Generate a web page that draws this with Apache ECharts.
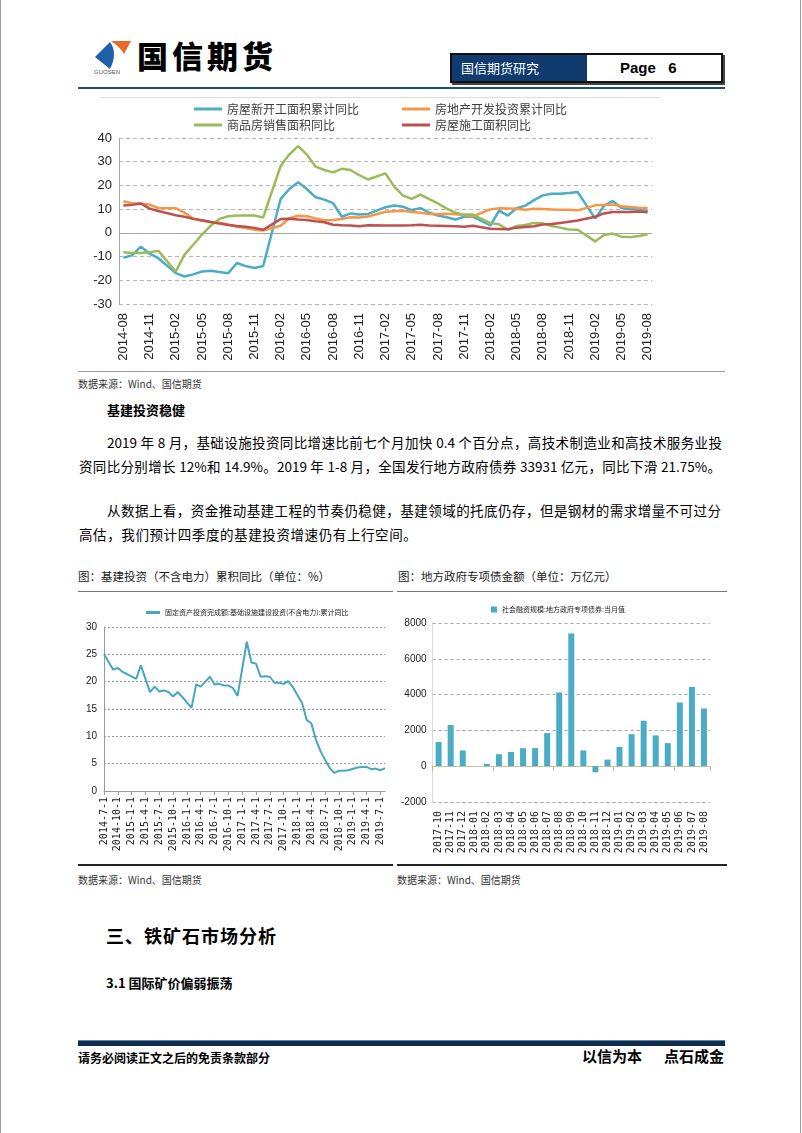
<!DOCTYPE html>
<html><head><meta charset="utf-8">
<script src="https://cdn.jsdelivr.net/npm/echarts@6/dist/echarts.min.js"></script>
<style>
html,body{margin:0;padding:0;background:#fff;}
#page{position:relative;width:802px;height:1133px;overflow:hidden;background:#fff;font-family:'Noto Sans CJK SC',sans-serif;color:#000;}
.a{position:absolute;white-space:nowrap;}
.rule{position:absolute;}
.p{position:absolute;font-size:13.5px;line-height:20px;height:20px;text-align:justify;text-align-last:justify;overflow:visible;}
.chart{position:absolute;}
</style></head><body><div id="page">
<div class="rule" style="left:0;top:0;width:1px;height:1133px;background:#9a9a9a"></div>
<div class="rule" style="left:800px;top:0;width:1px;height:1133px;background:#9a9a9a"></div>

<svg class="a" style="left:93px;top:38px" width="44" height="34" viewBox="0 0 44 34">
  <path d="M2,19 L17,4 Q25,15 17,31 Z" fill="#1e5fa8"/>
  <path d="M18,3 L38,3 L31,16 Q27,9 18,3 Z" fill="#e8692a"/>
</svg>
<div class="a" style="left:94px;top:69px;font-size:6px;color:#555;font-family:'Liberation Sans',sans-serif;">GUOSEN</div>
<div class="a" style="left:137px;top:35px;font-size:31px;font-weight:900;letter-spacing:4px;line-height:40px;">国信期货</div>

<div class="a" style="left:450px;top:53px;width:273px;height:30px;box-sizing:border-box;border:2px solid #111;box-shadow:2px 2px 0 #444;background:#fff;">
  <div class="a" style="left:0;top:0;width:135px;height:26px;background:#0f3b6e;color:#fff;font-size:13px;line-height:26px;padding-left:9px;box-sizing:border-box;">国信期货研究</div>
  <div class="a" style="left:168px;top:0;height:26px;line-height:26px;font-size:15px;font-weight:bold;font-family:'Liberation Sans',sans-serif;">Page&nbsp;&nbsp;&nbsp;6</div>
</div>
<div class="rule" style="left:78px;top:87px;width:647px;height:2px;background:#1f4e79"></div>

<div class="rule" style="left:100px;top:97px;width:560px;height:1px;background:#dcdcdc"></div>
<div id="c1" class="chart" style="left:70px;top:95px;width:620px;height:275px;"></div>
<div class="rule" style="left:78px;top:371px;width:647px;height:1px;background:#999"></div>
<div class="a" style="left:78px;top:377px;font-size:10px;line-height:14px;color:#333;">数据来源：Wind、国信期货</div>

<div class="a" style="left:107px;top:400px;font-size:13px;font-weight:bold;line-height:20px;">基建投资稳健</div>
<div class="p" style="left:107px;top:432px;width:615px;">2019 年 8 月，基础设施投资同比增速比前七个月加快 0.4 个百分点，高技术制造业和高技术服务业投</div>
<div class="p" style="left:79px;top:456px;width:642px;">资同比分别增长 12%和 14.9%。2019 年 1-8 月，全国发行地方政府债券 33931 亿元，同比下滑 21.75%。</div>
<div class="p" style="left:107px;top:500px;width:614px;">从数据上看，资金推动基建工程的节奏仍稳健，基建领域的托底仍存，但是钢材的需求增量不可过分</div>
<div class="a" style="left:79px;top:524px;font-size:13.5px;line-height:20px;letter-spacing:0.6px;">高估，我们预计四季度的基建投资增速仍有上行空间。</div>

<div class="a" style="left:78px;top:568px;font-size:11.5px;line-height:16px;color:#222;">图：基建投资（不含电力）累积同比（单位：%）</div>
<div class="a" style="left:398px;top:568px;font-size:11.5px;line-height:16px;color:#222;">图：地方政府专项债金额（单位：万亿元）</div>
<div class="rule" style="left:78px;top:591px;width:315px;height:1px;background:#777"></div>
<div class="rule" style="left:397px;top:591px;width:330px;height:1px;background:#777"></div>
<div id="c2" class="chart" style="left:78px;top:595px;width:318px;height:268px;"></div>
<div id="c3" class="chart" style="left:398px;top:595px;width:328px;height:268px;"></div>
<div class="rule" style="left:78px;top:864px;width:315px;height:2px;background:#222"></div>
<div class="rule" style="left:397px;top:864px;width:330px;height:2px;background:#222"></div>
<div class="a" style="left:78px;top:873px;font-size:10px;line-height:14px;color:#333;">数据来源：Wind、国信期货</div>
<div class="a" style="left:397px;top:873px;font-size:10px;line-height:14px;color:#333;">数据来源：Wind、国信期货</div>

<div class="a" style="left:106px;top:923px;font-size:18px;font-weight:bold;line-height:24px;letter-spacing:1px;">三、铁矿石市场分析</div>
<div class="a" style="left:106px;top:974px;font-size:13px;font-weight:bold;line-height:18px;">3.1 国际矿价偏弱振荡</div>

<div class="rule" style="left:78px;top:1040px;width:647px;height:6px;background:#0e2d4d;border-top:1px solid #5b85b0;box-sizing:border-box;"></div>
<div class="a" style="left:78px;top:1050px;font-size:12px;font-weight:bold;line-height:16px;">请务必阅读正文之后的免责条款部分</div>
<div class="a" style="left:582px;top:1046px;font-size:15px;font-weight:bold;line-height:20px;">以信为本<span style="display:inline-block;width:22px"></span>点石成金</div>
</div>
<script>
// ---------- Chart 1: 房地产 ----------
const months1 = [];
for (let y = 2014, m = 8; ; m++) {
  if (m > 12) { m = 1; y++; }
  if (y === 2019 && m > 8) break;
  months1.push(y + '-' + String(m).padStart(2, '0'));
}
const newStart = [-10.5,-9.5,-5.8,-8.8,-10.7,null,-17.0,-18.4,-17.5,-16.3,-16.0,-16.5,-17.0,-12.7,-14.0,-14.8,-14.0,null,14.3,18.5,21.4,18.5,15.0,14.0,12.5,6.8,8.2,7.7,8.0,null,10.8,11.5,11.0,9.6,10.4,8.5,7.3,6.6,5.6,6.8,6.8,null,3.1,9.4,7.3,10.4,11.5,13.8,15.8,16.5,16.5,16.8,17.2,null,6.0,11.4,13.4,10.5,10.1,9.9,9.0];
const investment = [13.3,12.5,12.4,11.9,10.5,null,10.4,8.5,6.0,5.1,4.6,4.3,3.5,2.6,2.0,1.3,1.0,null,3.0,6.2,7.2,7.0,6.1,5.3,5.4,5.8,6.6,6.5,6.9,null,8.9,9.1,9.3,8.8,8.5,7.9,7.9,8.1,7.8,7.5,7.0,null,9.9,10.4,10.3,10.2,9.7,10.2,10.1,9.9,9.7,9.7,9.5,null,11.6,11.8,11.9,11.2,10.9,10.6,10.5];
const salesArea = [-8.2,-8.5,-8.5,-8.2,-7.6,null,-16.3,-9.2,-5.0,-0.7,3.0,5.9,7.0,7.3,7.3,7.3,6.5,null,28.2,33.1,36.6,33.0,27.9,26.5,25.5,27.0,26.5,24.3,22.5,null,25.1,19.5,15.7,14.3,16.1,14.2,12.4,10.2,8.5,7.7,7.7,null,4.1,3.6,1.3,2.9,3.3,4.2,4.0,2.9,2.2,1.4,1.3,null,-3.6,-0.9,-0.3,-1.6,-1.8,-1.3,-0.6];
const construction = [11.5,11.8,12.4,10.2,9.2,null,7.4,6.8,5.9,5.3,4.6,3.9,3.3,2.9,2.6,2.1,1.3,null,5.8,5.9,5.6,5.4,4.9,4.5,3.4,3.2,3.1,2.8,3.2,null,3.1,3.1,3.1,3.2,3.4,3.1,3.0,2.9,2.8,2.6,3.0,null,1.7,1.6,1.5,2.2,2.5,2.8,3.5,3.7,4.2,4.7,5.2,null,6.8,8.2,8.8,8.8,8.8,9.0,8.7];
const names1 = ['房屋新开工面积累计同比','房地产开发投资累计同比','商品房销售面积同比','房屋施工面积同比'];
const colors1 = ['#4bacc6','#f79646','#9bbb59','#c0504d'];

// ---------- Chart 2: 基建投资 ----------
const months2 = [];
for (let y = 2014, m = 7; ; m++) {
  if (m > 12) { m = 1; y++; }
  if (y === 2019 && m > 8) break;
  months2.push(y + '-' + m + '-1');
}
const infra = [25.0,23.6,22.2,22.5,21.8,21.4,null,20.5,23.0,20.5,18.1,19.1,18.2,18.4,18.1,17.3,18.1,17.2,null,15.2,19.5,19.1,20.0,20.9,19.5,19.6,19.3,19.3,18.8,17.4,null,27.3,23.5,23.3,20.9,21.0,20.9,19.8,19.8,19.6,20.1,19.0,null,16.1,13.0,12.4,9.4,7.3,5.7,4.2,3.3,3.7,3.7,3.8,null,4.3,4.4,4.4,4.0,4.1,3.8,4.2];
const name2 = '固定资产投资完成额:基础设施建设投资(不含电力):累计同比';

// ---------- Chart 3: 专项债 ----------
const months3 = ['2017-10','2017-11','2017-12','2018-01','2018-02','2018-03','2018-04','2018-05','2018-06','2018-07','2018-08','2018-09','2018-10','2018-11','2018-12','2019-01','2019-02','2019-03','2019-04','2019-05','2019-06','2019-07','2019-08'];
const specialBond = [1350,2300,880,0,130,670,800,1010,1010,1850,4120,7420,880,-340,370,1080,1790,2540,1720,1290,3560,4430,3230];
const name3 = '社会融资规模:地方政府专项债券:当月值';

const cjk = "'Noto Sans CJK SC', sans-serif";
const lat = "'Liberation Sans', sans-serif";
const narrow = "'Liberation Sans Narrow', 'Liberation Sans', sans-serif";
const mono = "'DejaVu Sans Mono', monospace";
const plain = v => String(v);

const c1 = echarts.init(document.getElementById('c1'));
c1.setOption({
  animation: false,
  color: colors1,
  grid: {left: 49, top: 43, width: 533, height: 166},
  legend: [
    {left: 124, top: 7, padding: 0, orient: 'vertical', icon: 'rect', itemWidth: 28, itemHeight: 3, itemGap: 2,
     data: [names1[0], names1[2]], textStyle: {fontFamily: cjk, fontSize: 12, lineHeight: 14, color: '#404040'}},
    {left: 332, top: 7, padding: 0, orient: 'vertical', icon: 'rect', itemWidth: 28, itemHeight: 3, itemGap: 2,
     data: [names1[1], names1[3]], textStyle: {fontFamily: cjk, fontSize: 12, lineHeight: 14, color: '#404040'}}
  ],
  xAxis: {type: 'category', data: months1, boundaryGap: true,
    axisLine: {show: false}, axisTick: {show: false},
    axisLabel: {interval: 2, rotate: 90, margin: 9, fontSize: 13, fontFamily: lat, color: '#222'}},
  yAxis: {type: 'value', min: -30, max: 40, interval: 10,
    axisLine: {show: true, lineStyle: {color: '#a6a6a6'}}, axisTick: {show: false},
    axisLabel: {margin: 7, fontSize: 13, fontFamily: lat, color: '#222', formatter: plain},
    splitLine: {lineStyle: {type: [4, 3], color: '#b5b5b5'}}},
  series: [
    {name: names1[0], type: 'line', data: newStart},
    {name: names1[1], type: 'line', data: investment},
    {name: names1[2], type: 'line', data: salesArea},
    {name: names1[3], type: 'line', data: construction}
  ].map((s, i) => Object.assign(s, {symbol: 'none', connectNulls: true, lineStyle: {width: 2.5}, z: 3 + i,
    markLine: i === 0 ? {silent: true, symbol: 'none', label: {show: false}, z: 1,
      lineStyle: {type: 'solid', color: '#a6a6a6', width: 1}, data: [{yAxis: 0}]} : undefined}))
});

const c2 = echarts.init(document.getElementById('c2'));
c2.setOption({
  animation: false,
  grid: {left: 26, top: 32, width: 281, height: 164},
  legend: {left: 68, top: 14, padding: 0, icon: 'rect', itemWidth: 14, itemHeight: 3, itemGap: 4,
    data: [name2], textStyle: {fontFamily: cjk, fontSize: 7, color: '#222'}},
  xAxis: {type: 'category', data: months2, boundaryGap: false,
    axisLine: {show: true, lineStyle: {color: '#9a9a9a'}},
    axisTick: {show: true, interval: 2, length: 4, lineStyle: {color: '#9a9a9a'}},
    axisLabel: {interval: 2, rotate: 90, margin: 6, fontSize: 10, fontFamily: mono, color: '#222'}},
  yAxis: {type: 'value', min: 0, max: 30, interval: 5,
    axisLine: {show: true, lineStyle: {color: '#9a9a9a'}}, axisTick: {show: false},
    axisLabel: {margin: 7, fontSize: 10, fontFamily: narrow, color: '#222', formatter: plain},
    splitLine: {lineStyle: {type: [2, 2], color: '#9a9a9a'}}},
  series: [{name: name2, type: 'line', data: infra, symbol: 'none', connectNulls: true,
    color: '#45a7c1', lineStyle: {width: 2}}]
});

const c3 = echarts.init(document.getElementById('c3'));
c3.setOption({
  animation: false,
  grid: {left: 24, top: 28, width: 288, height: 179},
  legend: {left: 93, top: 11, padding: 0, icon: 'rect', itemWidth: 6, itemHeight: 6, itemGap: 4,
    data: [name3], textStyle: {fontFamily: cjk, fontSize: 7, color: '#222'}},
  xAxis: [
    {type: 'category', data: months3, position: 'bottom',
     axisLine: {show: false, onZero: false}, axisTick: {show: false},
     axisLabel: {interval: 0, rotate: 90, margin: 9, fontSize: 10, fontFamily: mono, color: '#222'}},
    {type: 'category', data: months3, position: 'bottom',
     axisLine: {show: true, onZero: true, lineStyle: {color: '#d2c09e'}},
     axisTick: {show: true, length: 5, lineStyle: {color: '#c9b28c'}},
     axisLabel: {show: false}}
  ],
  yAxis: {type: 'value', min: -2000, max: 8000, interval: 2000,
    axisLine: {show: true, lineStyle: {color: '#d9d9d9'}}, axisTick: {show: false},
    axisLabel: {margin: 6, fontSize: 10, fontFamily: narrow, color: '#222', formatter: plain},
    splitLine: {lineStyle: {type: [3, 3], color: '#a6a6a6'}}},
  series: [{name: name3, type: 'bar', xAxisIndex: 0, data: specialBond, barWidth: 6, color: '#4bacc6'}]
});
</script>
</body></html>
